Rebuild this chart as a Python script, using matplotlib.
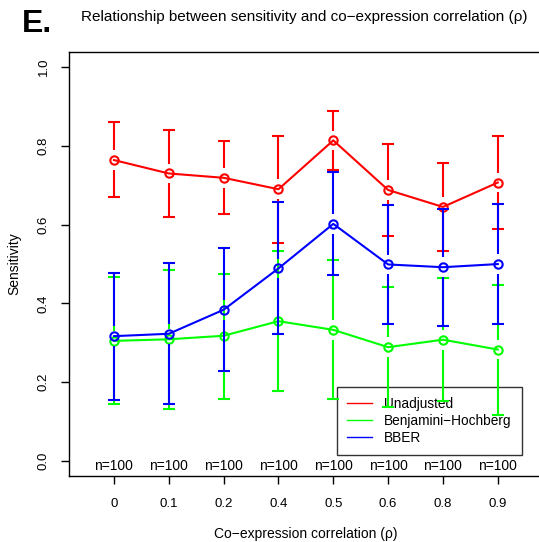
import matplotlib
matplotlib.use("Agg")
import matplotlib.pyplot as plt
import numpy as np

plt.rcParams['font.family'] = ['Liberation Sans', 'DejaVu Sans']

categories = ["0", "0.1", "0.2", "0.4", "0.5", "0.6", "0.8", "0.9"]
n_labels = ["n=100"] * 8

# sensitivity means with lower / upper error bar ends
unadj_mean = [0.764, 0.730, 0.719, 0.690, 0.814, 0.688, 0.645, 0.707]
unadj_low = [0.669, 0.620, 0.627, 0.553, 0.740, 0.572, 0.534, 0.590]
unadj_high = [0.860, 0.840, 0.812, 0.826, 0.889, 0.805, 0.757, 0.825]

bh_mean = [0.305, 0.309, 0.318, 0.355, 0.333, 0.289, 0.308, 0.283]
bh_low = [0.146, 0.133, 0.158, 0.178, 0.157, 0.138, 0.153, 0.118]
bh_high = [0.466, 0.485, 0.476, 0.534, 0.510, 0.442, 0.465, 0.448]

bber_mean = [0.317, 0.323, 0.384, 0.489, 0.602, 0.499, 0.492, 0.500]
bber_low = [0.156, 0.144, 0.228, 0.323, 0.473, 0.349, 0.344, 0.348]
bber_high = [0.478, 0.502, 0.541, 0.657, 0.733, 0.650, 0.639, 0.652]

series = [
    ("Unadjusted", "#FF0000", unadj_mean, unadj_low, unadj_high),
    ("Benjamini\u2212Hochberg", "#00FF00", bh_mean, bh_low, bh_high),
    ("BBER", "#0000FF", bber_mean, bber_low, bber_high),
]

fig = plt.figure(figsize=(5.39, 5.42), dpi=100)
ax = fig.add_axes([0.128, 0.1218, 0.879, 0.782])

x = np.arange(1, len(categories) + 1)
gap = 0.025  # gap between the point and its error bar

for name, col, m, lo, hi in series:
    m = np.array(m)
    lo = np.array(lo)
    hi = np.array(hi)
    ax.vlines(x, m + gap, hi, color=col, lw=1.5, zorder=3)
    ax.vlines(x, lo, m - gap, color=col, lw=1.5, zorder=3)
    ax.hlines(hi, x - 0.11, x + 0.11, color=col, lw=1.5, zorder=3)
    ax.hlines(lo, x - 0.11, x + 0.11, color=col, lw=1.5, zorder=3)
    ax.plot(x, m, color=col, lw=1.5, marker='o', ms=6, mfc='none',
            mec=col, mew=1.5, label=name, zorder=3)

for xi, t in zip(x, n_labels):
    ax.text(xi, -0.012, t, ha='center', va='center', fontsize=10)

ax.set_xlim(0.18, 8.82)
ax.set_ylim(-0.038, 1.038)
ax.set_xticks(x)
ax.set_xticklabels(categories)
ax.set_yticks([0.0, 0.2, 0.4, 0.6, 0.8, 1.0])
ax.set_yticklabels(["0.0", "0.2", "0.4", "0.6", "0.8", "1.0"], rotation=90, va='center')
ax.tick_params(axis='x', length=6, width=1, pad=10, labelsize=9.5)
ax.tick_params(axis='y', length=6, width=1, pad=8, labelsize=9.5)
for s in ax.spines.values():
    s.set_linewidth(1.0)

ax.set_xlabel("Co\u2212expression correlation (\u03c1)", fontsize=10, labelpad=12)
ax.set_ylabel("Sensitivity", fontsize=10, labelpad=12)

# legend box is transparent in the original, bars show through it
leg = ax.legend(loc='lower left', bbox_to_anchor=(0.5654, 0.0495), borderaxespad=0,
                fontsize=9.8, frameon=True, fancybox=False, edgecolor='black',
                handlelength=1.8, handletextpad=0.93, labelspacing=0.22,
                borderpad=0.75)
leg.get_frame().set_linewidth(1.0)
leg.get_frame().set_facecolor('none')
leg.set_zorder(2)
for h in leg.legend_handles:
    h.set_marker('')
    h.set_linewidth(1.0)

fig.text(0.040, 0.955, "E.", fontsize=23, fontweight='bold', va='center', ha='left')
fig.text(0.150, 0.968, "Relationship between sensitivity and co\u2212expression correlation (\u03c1)",
         fontsize=11, va='center', ha='left')

fig.savefig("out.png", dpi=100)
